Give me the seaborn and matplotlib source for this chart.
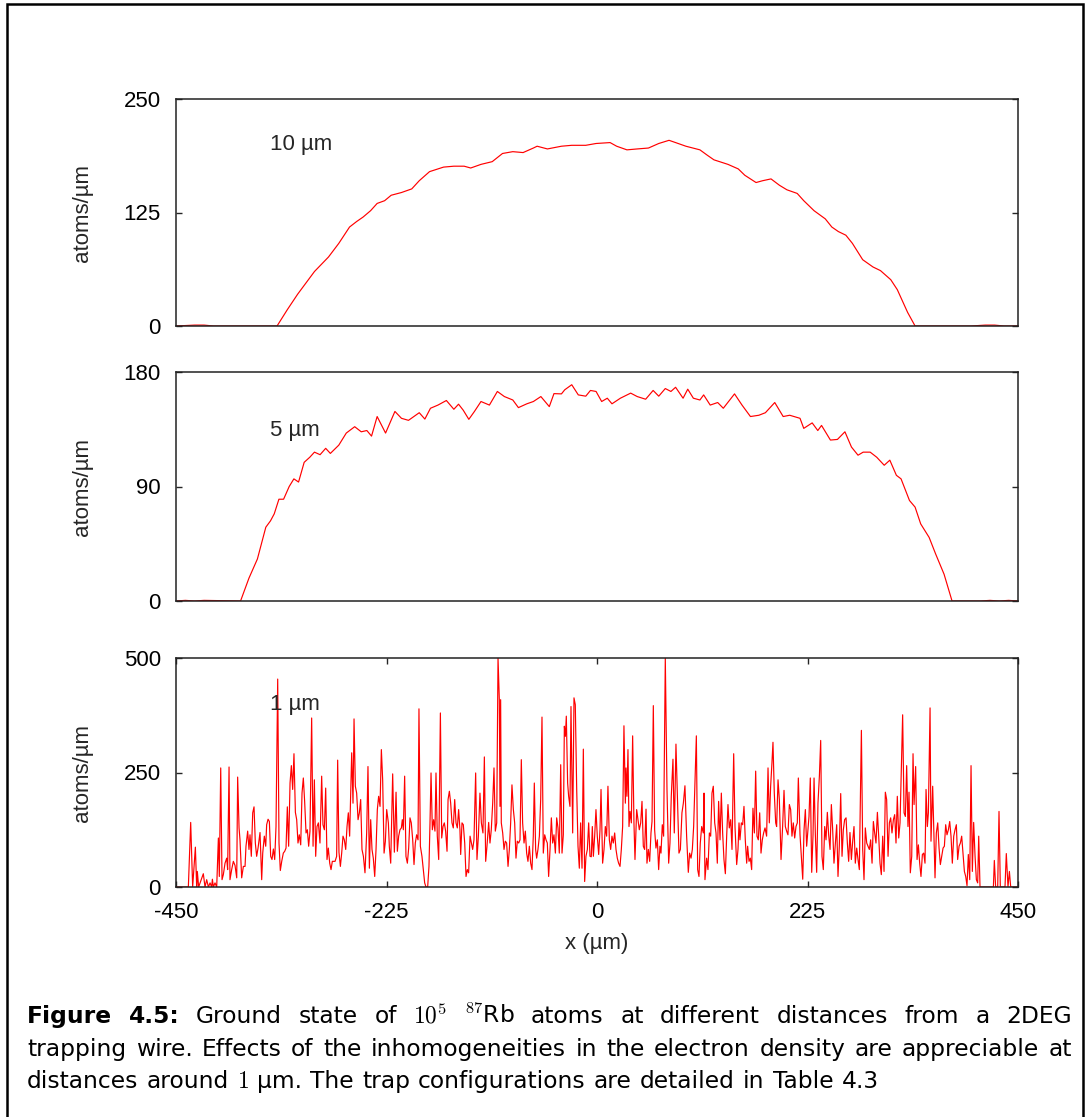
import matplotlib
matplotlib.use("Agg")
import matplotlib.pyplot as plt
import seaborn as sns
import pandas as pd
from matplotlib.patches import Rectangle

# --- data (x in um, density in atoms/um) ---

PROFILE_10UM = [
    (-450, 0), (-430, 1), (-420, 1), (-410, 0), (-400, 0), (-342, 0), (-331, 18), (-320, 35),
    (-302, 60), (-287, 76), (-276, 91), (-264.5, 109), (-257, 115), (-250, 120), (-242, 127),
    (-235, 135), (-227, 138), (-220, 144), (-209, 147), (-198, 151), (-190, 160), (-179, 170),
    (-164, 175), (-153, 176), (-142, 176), (-135, 174), (-124, 178), (-112, 181), (-101, 190),
    (-90, 192), (-79, 191), (-68, 196), (-64, 198), (-53, 195), (-38, 198), (-27, 199),
    (-12, 199), (-1, 201), (14, 202), (21, 198), (32, 194), (43, 195), (55, 196), (66, 201),
    (77, 204.5), (84, 202), (95, 198), (110, 194), (118, 188), (125, 183), (140, 178),
    (151, 173), (158, 166), (170, 158), (177, 160), (186, 162), (195, 155), (203, 150),
    (214, 146), (221, 138), (232, 127), (244, 118), (251, 109), (258, 104), (266, 100),
    (273, 91), (284, 73), (295, 65), (303, 61), (314, 51), (321, 40), (332, 15), (340, 0),
    (400, 0), (415, 1), (425, 1), (435, 0), (450, 0),
]

PROFILE_5UM = [
    (-450, 0), (-440, 0.5), (-430, 0), (-420, 0.5), (-381, 0), (-372, 18), (-363, 33),
    (-354, 58), (-349, 63), (-345, 68.5), (-340, 80), (-335, 80), (-329, 90), (-324, 96),
    (-319, 93.5), (-313, 109), (-307, 113), (-302, 117), (-296, 115), (-290, 120), (-285, 116),
    (-276, 122.5), (-268, 132), (-259, 137), (-252, 133), (-246, 134), (-241, 129.6),
    (-235, 145), (-226, 132), (-216, 149), (-209, 143.6), (-201.5, 142), (-190, 148),
    (-184, 143), (-178, 151.5), (-170, 154), (-161, 157.6), (-153, 150.7), (-148, 154.7),
    (-143, 150), (-137, 142.8), (-131, 149), (-124, 156.8), (-115, 154), (-106.5, 164.7),
    (-99, 160.7), (-90, 158), (-84, 152), (-75, 155), (-68, 156.8), (-60, 160.7),
    (-51, 152.8), (-46, 163), (-38, 162.8), (-34.5, 166), (-27, 170), (-20, 162), (-12, 161),
    (-7, 165.5), (-1, 164.7), (5, 156.8), (11, 159.4), (16, 155), (25, 159.4), (36, 163.4),
    (43, 160.7), (52, 158.6), (60, 165.5), (66, 161), (73, 167), (79, 164.7), (84, 168),
    (92, 159.4), (97, 166.5), (103, 159.4), (110, 158), (114, 162), (121, 154), (129, 156),
    (135, 151.5), (147, 162.8), (155, 154), (164, 145), (173, 146), (180, 148), (190, 156),
    (199, 145), (206, 146), (217, 143.6), (221, 135.7), (230, 140), (236, 134), (240, 138),
    (249.5, 126.5), (257, 127), (265, 133), (272, 121), (279, 114.6), (284.5, 117), (292, 117),
    (299, 113), (307, 106.7), (313, 110.7), (320, 98.8), (325, 96), (334, 79), (340, 73.8),
    (346, 60.6), (355, 50), (362, 36.9), (371, 21), (379.5, 0), (410, 0), (420, 0.5),
    (430, 0), (440, 0.5), (450, 0),
]

PROFILE_1UM_A = [
    (-450, 0), (-436.8, 0), (-434.3, 141), (-432.2, 0), (-429.3, 87), (-427.9, 0), (-427.2, 34),
    (-425.8, 0), (-420.8, 29), (-419.0, 0), (-417.2, 16), (-415.4, 0), (-413.6, 9), (-411.9, 0),
    (-411.1, 17), (-410.1, 0), (-408.3, 9), (-406.5, 0), (-404.7, 107), (-403.7, 23),
    (-402.2, 260), (-400.8, 16), (-399.4, 27), (-397.6, 52), (-395.8, 63), (-394.8, 38),
    (-393.3, 262), (-392.3, 16), (-390.5, 38), (-388.7, 56), (-386.9, 47), (-385.1, 20),
    (-384.1, 240), (-382.6, 129), (-381.6, 103), (-379.8, 20), (-378.0, 45), (-376.2, 45),
    (-375.2, 89), (-373.4, 122), (-372.0, 82), (-370.9, 114), (-369.5, 67), (-368.0, 162),
    (-366.6, 175), (-365.2, 96), (-363.8, 67), (-362.3, 85), (-360.2, 119), (-358.4, 16),
    (-357.3, 74), (-355.6, 111), (-354.1, 89), (-353.1, 136), (-351.6, 148), (-350.2, 143),
    (-348.8, 67), (-347.4, 60), (-345.9, 83), (-344.5, 60), (-343.1, 132), (-341.3, 454),
    (-339.9, 96), (-338.5, 36), (-337.0, 56), (-335.3, 74), (-333.8, 78), (-332.4, 85),
    (-331.0, 175), (-329.6, 89), (-328.1, 227), (-326.7, 265), (-325.3, 213), (-323.9, 291),
    (-322.4, 163), (-321.0, 147), (-319.6, 96), (-318.2, 114), (-316.7, 92), (-315.3, 205),
    (-313.9, 238), (-312.5, 187), (-311.0, 118), (-309.6, 125), (-308.2, 89), (-306.8, 122),
    (-305.0, 369), (-303.5, 89), (-302.1, 234), (-300.7, 67), (-299.3, 132), (-297.8, 140),
    (-296.1, 96), (-294.3, 242), (-292.9, 136), (-291.4, 125), (-290.0, 216), (-288.6, 60),
    (-287.2, 85), (-285.7, 52), (-284.3, 38), (-282.9, 56), (-281.5, 56), (-280.0, 56),
    (-278.3, 67), (-277.2, 277), (-275.8, 76), (-274.3, 45), (-272.9, 74), (-271.5, 111),
    (-270.1, 103), (-268.6, 82), (-267.2, 132), (-265.8, 162), (-264.4, 111), (-262.2, 293),
    (-260.8, 183), (-259.7, 367), (-258.3, 220), (-256.9, 205), (-255.4, 147), (-254.0, 162),
    (-252.6, 191), (-251.2, 82), (-249.7, 67), (-248.0, 31), (-246.2, 118), (-244.8, 263),
    (-243.3, 41), (-241.9, 147), (-240.5, 82), (-239.1, 63), (-237.6, 23), (-236.2, 82),
    (-234.8, 169), (-233.4, 198), (-231.9, 176), (-230.5, 300), (-229.1, 234), (-227.6, 74),
    (-226.2, 100), (-224.8, 169), (-223.0, 140),
]

PROFILE_1UM_B = [
    (-222.0, 89), (-220.5, 52), (-218.4, 247), (-216.6, 76), (-214.8, 207), (-213.4, 78),
    (-212.0, 111), (-210.6, 125), (-209.1, 129), (-208.1, 147), (-207.0, 125), (-205.6, 242),
    (-204.2, 67), (-202.7, 52), (-201.3, 85), (-199.9, 151), (-198.5, 140), (-197.0, 103),
    (-195.6, 49), (-194.2, 96), (-192.8, 114), (-191.3, 103), (-190.3, 389), (-188.8, 89),
    (-187.1, 67), (-185.6, 38), (-184.2, 9), (-182.8, 0), (-181.0, 0), (-179.6, 45),
    (-178.5, 140), (-177.4, 249), (-176.0, 125), (-174.6, 147), (-173.2, 122), (-172.1, 249),
    (-170.7, 111), (-169.2, 60), (-167.4, 380), (-166.0, 107), (-164.6, 132), (-163.2, 140),
    (-161.8, 122), (-160.3, 78), (-159.2, 191), (-157.8, 209), (-156.4, 183), (-155.0, 140),
    (-153.6, 129), (-152.1, 191), (-150.7, 140), (-149.3, 129), (-147.9, 169), (-146.5, 125),
    (-145.7, 71), (-144.3, 140), (-142.9, 136), (-141.4, 96), (-140.0, 23), (-138.6, 38),
    (-137.2, 31), (-135.7, 111), (-134.3, 96), (-132.9, 82), (-131.5, 103), (-129.7, 249),
    (-128.3, 60), (-126.8, 111), (-125.1, 205), (-123.6, 140), (-121.9, 118), (-120.4, 284),
    (-119.0, 56), (-117.6, 89), (-115.8, 141), (-114.4, 96), (-113.0, 125), (-111.5, 183),
    (-110.1, 260), (-108.7, 122), (-107.2, 140), (-105.8, 500), (-104.4, 409), (-103.7, 176),
    (-103.0, 409), (-102.3, 140), (-100.8, 118), (-99.4, 82), (-98.0, 100), (-96.6, 96),
    (-95.1, 45), (-93.7, 82), (-92.3, 140), (-90.9, 223), (-89.4, 169), (-88.0, 140),
    (-86.6, 63), (-85.2, 100), (-83.7, 96), (-82.3, 103), (-80.9, 278), (-79.5, 140),
    (-78.0, 96), (-76.6, 122), (-75.2, 74), (-73.8, 56), (-72.3, 89), (-70.9, 52), (-69.5, 38),
    (-68.1, 111), (-67.0, 227), (-65.6, 82), (-64.5, 63), (-63.1, 82), (-61.6, 111),
    (-60.2, 191), (-58.8, 371), (-57.4, 74), (-55.9, 114), (-54.5, 103), (-53.1, 96),
    (-51.7, 23), (-50.2, 82), (-48.8, 151), (-47.4, 96), (-46.0, 114), (-44.5, 74),
    (-43.1, 151), (-41.7, 129), (-40.3, 74), (-38.8, 267), (-37.4, 74), (-36.0, 114),
    (-34.9, 351), (-33.8, 329), (-32.8, 373), (-31.4, 227), (-30.3, 198), (-28.9, 176),
    (-27.8, 394), (-26.0, 118), (-24.6, 413), (-23.2, 398), (-21.7, 213), (-20.3, 89),
    (-18.9, 41), (-17.5, 140), (-16.0, 41), (-14.6, 301), (-13.2, 12), (-11.8, 67),
    (-10.3, 82), (-8.9, 140), (-7.5, 67),
]

PROFILE_1UM_C = [
    (-6.1, 66), (-5.0, 132), (-3.9, 67), (-2.5, 111), (-1.1, 169), (0.3, 111), (1.8, 71),
    (3.2, 125), (4.3, 213), (6.0, 52), (7.5, 82), (8.9, 132), (10.3, 111), (11.7, 220),
    (13.2, 103), (14.6, 82), (16.0, 111), (17.4, 96), (18.9, 118), (20.3, 82), (21.7, 63),
    (23.1, 52), (24.6, 45), (26.0, 82), (27.4, 132), (28.8, 352), (30.3, 183), (31.0, 260),
    (32.0, 198), (33.1, 300), (34.2, 132), (35.3, 165), (36.7, 140), (38.1, 330), (39.5, 140),
    (40.6, 60), (42.4, 169), (43.8, 147), (45.2, 125), (46.7, 140), (48.1, 187), (49.5, 89),
    (50.9, 82), (52.4, 170), (53.4, 52), (54.9, 82), (56.3, 56), (57.7, 118), (58.8, 143),
    (60.2, 396), (61.6, 125), (63.0, 85), (64.5, 103), (65.9, 38), (67.3, 89), (68.4, 74),
    (69.8, 136), (71.2, 111), (73.0, 500), (74.8, 213), (76.6, 52), (78.0, 96), (79.4, 198),
    (81.2, 279), (82.6, 118), (84.4, 312), (85.8, 205), (87.6, 74), (89.1, 82), (90.8, 162),
    (92.3, 183), (94.0, 221), (95.8, 111), (97.6, 32), (99.0, 74), (100.5, 63), (101.9, 82),
    (103.3, 132), (104.7, 227), (106.2, 330), (107.6, 38), (109.0, 23), (110.4, 96),
    (111.9, 132), (113.6, 118), (114.4, 205), (115.4, 16), (117.2, 63), (118.6, 38),
    (120.1, 118), (121.5, 111), (122.9, 205), (124.3, 220), (125.8, 140), (127.2, 118),
    (128.6, 52), (130.0, 187), (131.5, 103), (132.9, 205), (134.3, 118), (135.7, 60),
    (137.2, 29), (138.6, 111), (140.0, 180), (141.4, 129), (142.9, 147), (144.3, 82),
    (146.1, 291), (147.5, 132), (149.3, 49), (150.7, 82), (151.8, 140), (152.8, 103),
    (154.3, 140), (155.7, 136), (157.1, 176), (158.5, 103), (160.0, 52), (161.0, 89),
    (162.5, 56), (163.9, 63), (165.3, 38), (166.7, 172), (168.2, 118), (169.6, 253),
    (171.0, 111), (172.4, 103), (173.9, 162), (175.3, 74), (176.7, 103), (178.1, 118),
    (179.6, 129), (181.3, 111), (182.8, 260), (184.2, 140), (185.6, 220), (187.0, 271),
    (188.1, 316), (189.5, 205), (191.0, 140), (192.0, 132), (193.5, 234), (194.9, 191),
    (196.7, 60), (198.4, 132), (199.9, 211), (201.3, 132), (202.7, 122), (204.1, 114),
    (205.6, 180), (207.0, 169), (208.4, 111), (209.8, 140), (211.3, 107), (212.7, 132),
    (214.1, 140), (215.2, 238), (217.0, 114),
]

PROFILE_1UM_D = [
    (218.4, 67), (219.9, 17), (221.3, 125), (222.7, 169), (224.1, 89), (225.6, 129),
    (226.6, 154), (228.0, 238), (229.5, 32), (230.9, 114), (232.0, 238), (233.4, 114),
    (234.8, 32), (236.2, 183), (237.7, 242), (239.1, 320), (240.5, 67), (241.9, 38),
    (243.4, 132), (244.8, 103), (246.2, 163), (247.6, 114), (249.1, 82), (250.5, 180),
    (251.9, 125), (253.3, 52), (254.8, 96), (256.2, 136), (257.6, 23), (259.0, 89),
    (260.5, 204), (261.9, 67), (263.3, 125), (264.7, 147), (266.2, 151), (267.6, 96),
    (269.0, 56), (270.4, 119), (271.9, 60), (273.3, 100), (274.7, 132), (276.1, 52),
    (277.6, 85), (279.0, 60), (280.4, 38), (282.6, 342), (284.0, 82), (285.4, 16),
    (286.8, 129), (288.3, 96), (289.7, 89), (291.1, 82), (292.5, 103), (294.0, 52),
    (295.4, 143), (296.8, 118), (298.2, 96), (299.7, 163), (301.1, 111), (302.5, 52),
    (303.9, 27), (305.4, 111), (306.8, 34), (308.2, 207), (309.6, 191), (311.1, 67),
    (312.5, 140), (313.9, 151), (315.3, 118), (316.8, 147), (318.2, 158), (319.6, 96),
    (321.0, 198), (322.5, 107), (323.9, 140), (325.0, 231), (326.7, 376), (328.2, 162),
    (329.6, 154), (331.0, 265), (332.4, 132), (333.5, 207), (334.9, 31), (336.4, 67),
    (337.8, 291), (338.9, 180), (340.6, 263), (342.1, 60), (343.5, 92), (344.9, 52),
    (346.3, 23), (347.8, 71), (349.2, 74), (350.6, 52), (351.7, 213), (353.1, 132),
    (354.2, 162), (356.0, 391), (357.0, 100), (358.8, 220), (361.3, 20), (362.7, 118),
    (364.2, 140), (365.6, 85), (367.0, 49), (368.4, 67), (369.9, 85), (371.3, 89),
    (372.7, 136), (374.1, 114), (375.6, 125), (377.0, 143), (378.4, 111), (379.8, 52),
    (381.3, 111), (382.7, 125), (384.1, 136), (385.5, 60), (387.0, 89), (388.4, 96),
    (389.8, 111), (391.2, 74), (392.7, 34), (394.1, 23), (395.5, 3), (396.9, 71), (398.4, 16),
    (399.8, 265), (401.2, 34), (402.6, 141), (404.1, 67), (405.5, 16), (406.9, 9),
    (408.0, 111), (409.4, 0), (423.7, 0), (424.7, 58), (426.1, 0), (428.3, 0), (429.7, 165),
    (431.1, 0), (436.1, 0), (437.5, 73), (439.3, 0), (440.8, 34), (442.2, 0), (450, 0),
]

PANEL_NAMES = ["10 µm", "5 µm", "1 µm"]
PANEL_YTICKS = [[0, 125, 250], [0, 90, 180], [0, 250, 500]]
PANEL_LABEL_Y = [200, 134, 398]
X_TICKS = [-450, -225, 0, 225, 450]

CAPTION_1 = [("Figure", True), ("4.5:", True), ("Ground", False), ("state", False),
             ("of", False), ("$10^5$", False), ("$^{87}$Rb", False), ("atoms", False),
             ("at", False), ("different", False), ("distances", False), ("from", False),
             ("a", False), ("2DEG", False)]
CAPTION_2 = ("trapping wire. Effects of the inhomogeneities in the electron "
             "density are appreciable at")
CAPTION_3 = "distances around $1$ µm. The trap configurations are detailed in Table 4.3"

# --- style ---
sns.set_theme(style="ticks")
plt.rcParams['font.family'] = ['Liberation Sans', 'DejaVu Sans']
plt.rcParams['mathtext.fontset'] = 'cm'
plt.rcParams['axes.unicode_minus'] = False

W, H = 1086, 1117
FS = 16
RED = '#ff0000'
CAP_FONT = ['DejaVu Sans']

fig = plt.figure(figsize=(W / 100, H / 100), dpi=100)
fig.patch.set_facecolor('white')


def px_box(left, top, right, bottom):
    return [left / W, 1 - bottom / H, (right - left) / W, (bottom - top) / H]


profiles = [PROFILE_10UM, PROFILE_5UM,
            PROFILE_1UM_A + PROFILE_1UM_B + PROFILE_1UM_C + PROFILE_1UM_D]
boxes = [(99, 326), (372, 601), (658, 887)]

for i, (pairs, (top, bot)) in enumerate(zip(profiles, boxes)):
    ax = fig.add_axes(px_box(176, top, 1018, bot))
    df = pd.DataFrame(pairs, columns=["x", "density"])
    sns.lineplot(data=df, x="x", y="density", color=RED, lw=0.85,
                 estimator=None, sort=False, ax=ax)
    yt = PANEL_YTICKS[i]
    ax.set_xlim(-450, 450)
    ax.set_ylim(yt[0], yt[-1])
    ax.set_yticks(yt)
    ax.set_yticklabels([str(t) for t in yt])
    ax.tick_params(axis='y', direction='in', length=4, width=1, left=True, right=True,
                   labelsize=FS, pad=11, labelcolor='black')
    if i == 2:
        ax.set_xticks(X_TICKS)
        ax.set_xticklabels([str(t) for t in X_TICKS])
        ax.tick_params(axis='x', direction='in', length=4, width=1, top=True, bottom=True,
                       labelsize=FS, pad=11, labelcolor='black')
        ax.set_xlabel("x (µm)", fontsize=FS)
        ax.xaxis.set_label_coords(0.5, -0.245)
        ax.xaxis.label.set_va('center')
    else:
        ax.set_xticks([])
        ax.set_xlabel("")
    ax.set_ylabel("atoms/µm", fontsize=FS)
    ax.yaxis.set_label_coords(-0.1116, 0.5)
    ax.yaxis.label.set_va('center')
    for s in ax.spines.values():
        s.set_visible(True)
        s.set_linewidth(1.1)
        s.set_color('#222222')
    ax.text(-349.5, PANEL_LABEL_Y[i], PANEL_NAMES[i], fontsize=FS, ha='left', va='center')

# outer frame of the figure float
fig.patches.append(Rectangle((7 / W, -0.05), (1083 - 7) / W, 1.05 - 4 / H,
                             transform=fig.transFigure, fill=False, lw=1.8,
                             edgecolor='black', clip_on=False))

# caption, justified like the original
renderer = fig.canvas.get_renderer()
X0, X1 = 27, 1072

# pick the caption size so the second line, set with plain spaces, nearly fills the width
probe = fig.text(0, 0, CAPTION_2, fontsize=10, family=CAP_FONT)
probe_w = probe.get_window_extent(renderer).width
probe.remove()
CAP_FS = 10 * (X1 - X0) * 0.975 / probe_w


def caption_line(tokens, base_px, justify):
    texts, widths = [], []
    for s, bold in tokens:
        t = fig.text(0, 1 - base_px / H, s, fontsize=CAP_FS, va='baseline', ha='left',
                     family=CAP_FONT, fontweight='bold' if bold else 'normal',
                     color='black')
        texts.append(t)
        widths.append(t.get_window_extent(renderer).width)
    if justify:
        gap = (X1 - X0 - sum(widths)) / (len(tokens) - 1)
    else:
        gap = CAP_FS * 1.389 * 0.35
    x = X0
    for t, w in zip(texts, widths):
        t.set_x(x / W)
        x += w + gap


caption_line(CAPTION_1, 1023, True)
caption_line([(w, False) for w in CAPTION_2.split(" ")], 1056, True)
caption_line([(w, False) for w in CAPTION_3.split(" ")], 1088, False)

fig.savefig("out.png", dpi=100, facecolor='white')
